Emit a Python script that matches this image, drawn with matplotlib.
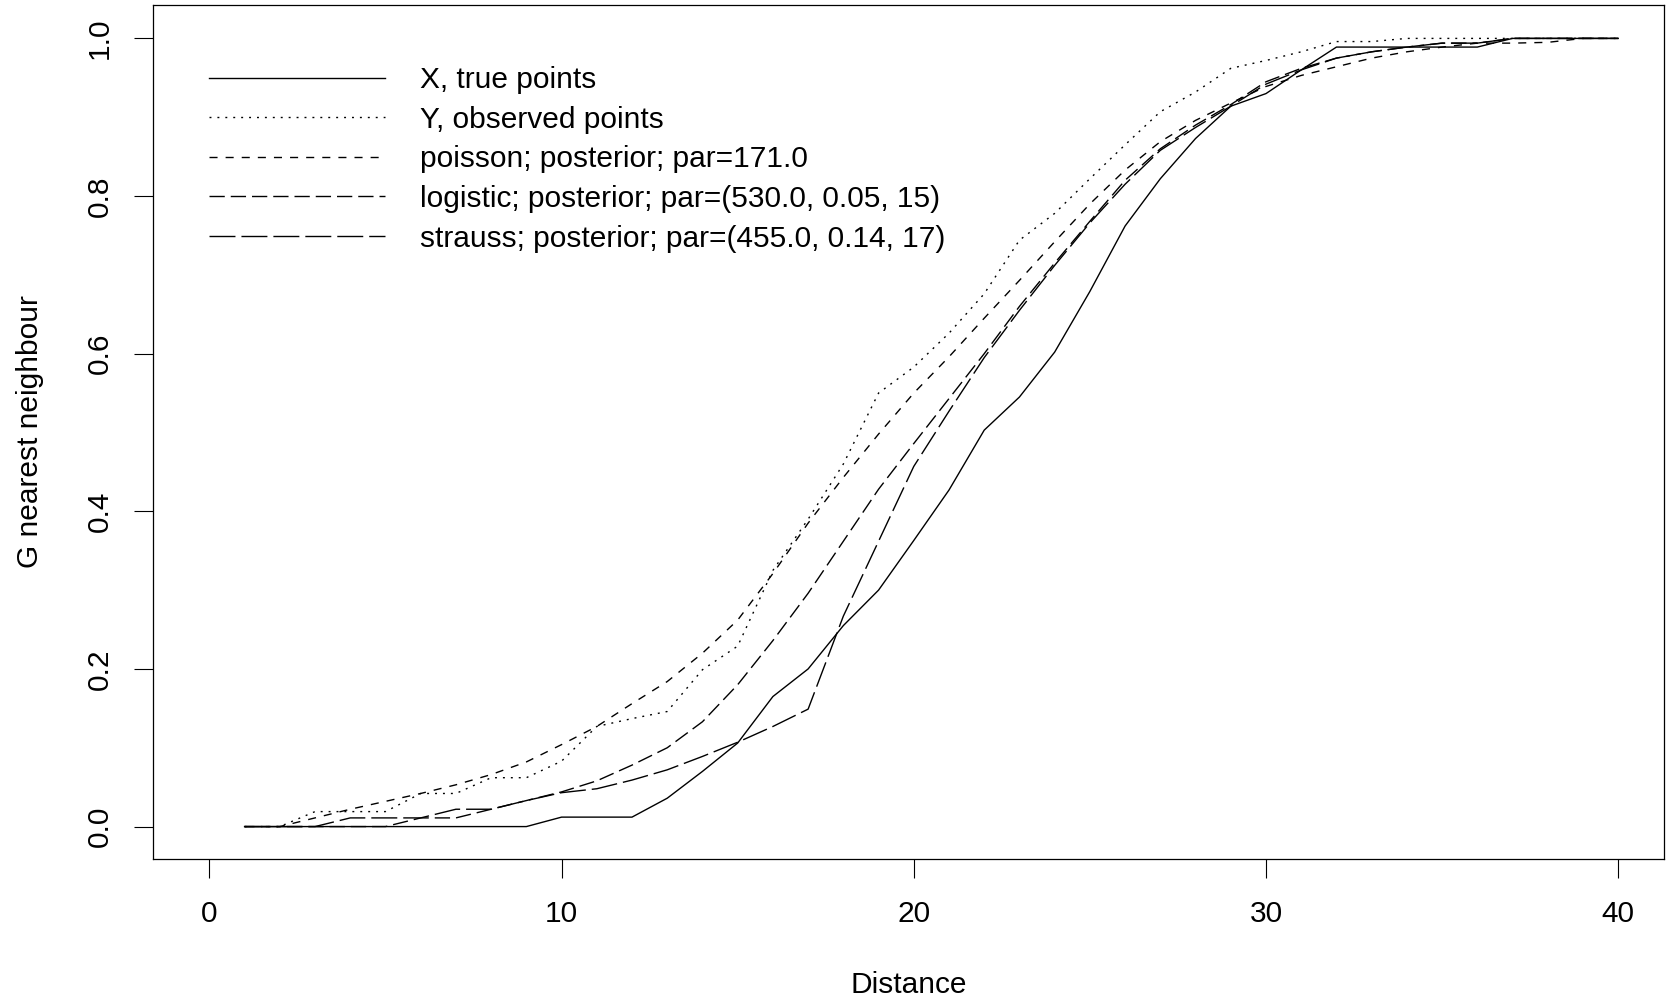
import numpy as np
import matplotlib
matplotlib.use("Agg")
import matplotlib.pyplot as plt

plt.rcParams["font.family"] = ["Liberation Sans", "DejaVu Sans"]
plt.rcParams["lines.scale_dashes"] = False

# -----------------------------
# Data
# -----------------------------
distance = list(range(1, 41))

x_true = [0, 0, 0, 0, 0, 0, 0, 0, 0, 0.012,
          0.012, 0.012, 0.036, 0.07, 0.106, 0.165, 0.2, 0.255, 0.3, 0.363,
          0.427, 0.503, 0.545, 0.602, 0.679, 0.762, 0.822, 0.873, 0.914, 0.93,
          0.96, 0.989, 0.989, 0.989, 0.989, 0.989, 1, 1, 1, 1]

y_observed = [0, 0, 0.019, 0.019, 0.019, 0.042, 0.042, 0.062, 0.062, 0.083,
              0.127, 0.137, 0.146, 0.199, 0.229, 0.325, 0.39, 0.46, 0.55, 0.583,
              0.626, 0.676, 0.744, 0.778, 0.822, 0.865, 0.907, 0.932, 0.962, 0.972,
              0.983, 0.996, 0.996, 1, 1, 1, 1, 1, 1, 1]

poisson = [0, 0, 0.011, 0.022, 0.032, 0.042, 0.053, 0.066, 0.082, 0.104,
           0.127, 0.156, 0.184, 0.22, 0.262, 0.321, 0.385, 0.443, 0.498, 0.55,
           0.596, 0.645, 0.693, 0.742, 0.79, 0.833, 0.869, 0.896, 0.918, 0.939,
           0.953, 0.964, 0.975, 0.983, 0.989, 0.994, 0.994, 0.995, 1, 1]

logistic = [0, 0, 0, 0, 0, 0.011, 0.011, 0.022, 0.033, 0.044,
            0.058, 0.078, 0.1, 0.133, 0.18, 0.236, 0.296, 0.362, 0.428, 0.486,
            0.543, 0.6, 0.66, 0.715, 0.768, 0.82, 0.86, 0.89, 0.916, 0.945,
            0.962, 0.975, 0.983, 0.989, 0.994, 0.994, 1, 1, 1, 1]

strauss = [0, 0, 0, 0.011, 0.011, 0.011, 0.022, 0.022, 0.033, 0.043,
           0.048, 0.059, 0.072, 0.089, 0.107, 0.127, 0.149, 0.267, 0.362, 0.457,
           0.527, 0.595, 0.655, 0.712, 0.766, 0.815, 0.858, 0.887, 0.914, 0.942,
           0.96, 0.975, 0.983, 0.989, 0.994, 0.994, 1, 1, 1, 1]

labels = [
    "X, true points",
    "Y, observed points",
    "poisson; posterior; par=171.0",
    "logistic; posterior; par=(530.0, 0.05, 15)",
    "strauss; posterior; par=(455.0, 0.14, 17)",
]

# R style line types (on/off in points)
dash_styles = [None, (1.4, 4.3), (5.8, 5.8), (11.0, 4.3), (18.7, 4.3)]

# -----------------------------
# Figure
# -----------------------------
W, H, DPI = 1666, 1005, 100
FS = 21.5

fig = plt.figure(figsize=(W / DPI, H / DPI), dpi=DPI)
ax = fig.add_axes([153 / W, 1 - 858.5 / H, (1664 - 153) / W, (858.5 - 5.3) / H])

series = [x_true, y_observed, poisson, logistic, strauss]
lines = []
for values, dashes, label in zip(series, dash_styles, labels):
    if dashes is None:
        ln, = ax.plot(distance, values, color="black", lw=1.0, label=label)
    else:
        ln, = ax.plot(distance, values, color="black", lw=1.0, label=label,
                      dashes=dashes)
    lines.append(ln)

ax.set_xlim(-1.6, 41.3)
ax.set_ylim(-0.0405, 1.042)
ax.set_xticks([0, 10, 20, 30, 40])
ax.set_yticks([0, 0.2, 0.4, 0.6, 0.8, 1.0])
ax.set_yticklabels(["0.0", "0.2", "0.4", "0.6", "0.8", "1.0"])
ax.tick_params(axis="both", direction="out", length=13.5, width=0.8,
               labelsize=FS, color="black")
ax.tick_params(axis="x", pad=16.5)
ax.tick_params(axis="y", pad=14.5)
for lbl in ax.get_yticklabels():
    lbl.set_rotation(90)
    lbl.set_va("center")

for spine in ax.spines.values():
    spine.set_linewidth(0.9)
    spine.set_color("black")

ax.set_xlabel("Distance", fontsize=FS, labelpad=31)
ax.set_ylabel("G nearest neighbour", fontsize=FS, labelpad=30)

ax.legend(handles=lines, loc="upper left", frameon=False, fontsize=FS,
          bbox_to_anchor=(209 / W, 1 - 66 / H), bbox_transform=fig.transFigure,
          borderpad=0, borderaxespad=0, handlelength=5.9, handletextpad=1.17,
          labelspacing=0.39)

fig.savefig("out.png", dpi=DPI)
plt.close(fig)
